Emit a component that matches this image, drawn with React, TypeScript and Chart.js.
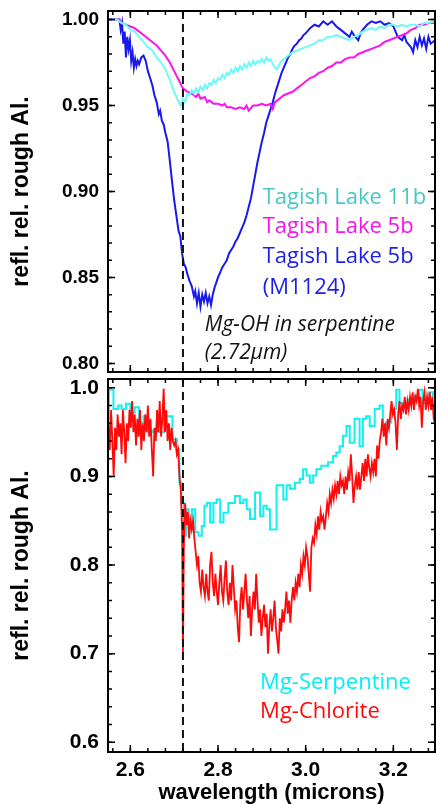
import React, { useEffect, useRef } from "react";
import { Chart, registerables } from "chart.js";

Chart.register(...registerables);

// ---------------- data ----------------
const X_MIN = 2.549;
const X_MAX = 3.295;
const TOP_Y_MIN = 0.795;
const TOP_Y_MAX = 1.005;
const BOTTOM_Y_MIN = 0.589;
const BOTTOM_Y_MAX = 1.01;
const MARKER_WAVELENGTH = 2.72;

const X_MAJOR_TICKS = [2.6, 2.8, 3.0, 3.2];
const X_MINOR_TICKS = [2.56, 2.6, 2.64, 2.68, 2.72, 2.76, 2.8, 2.84, 2.88, 2.92, 2.96, 3.0, 3.04, 3.08, 3.12, 3.16, 3.2, 3.24, 3.28];
const TOP_Y_MAJOR_TICKS = [0.8, 0.85, 0.9, 0.95, 1.0];
const TOP_Y_MINOR_TICKS = [0.8, 0.81, 0.82, 0.83, 0.84, 0.85, 0.86, 0.87, 0.88, 0.89, 0.9, 0.91, 0.92, 0.93, 0.94, 0.95, 0.96, 0.97, 0.98, 0.99, 1.0];
const BOTTOM_Y_MAJOR_TICKS = [0.6, 0.7, 0.8, 0.9, 1.0];
const BOTTOM_Y_MINOR_TICKS = [0.6, 0.62, 0.64, 0.66, 0.68, 0.7, 0.72, 0.74, 0.76, 0.78, 0.8, 0.82, 0.84, 0.86, 0.88, 0.9, 0.92, 0.94, 0.96, 0.98, 1.0];

const Y_TITLE = "refl. rel. rough Al.";
const X_TITLE = "wavelength (microns)";

// Tagish Lake 11b (top, light cyan)
const TAGISH_11B: [number, number][] = [
  [2.549, 1.0], [2.57, 1.0], [2.58, 0.998], [2.59, 0.997], [2.6, 0.994], [2.61, 0.993], [2.62, 0.99], [2.63, 0.987],
  [2.64, 0.984], [2.65, 0.982], [2.66, 0.978], [2.67, 0.975], [2.68, 0.971], [2.69, 0.965], [2.7, 0.958], [2.705, 0.955],
  [2.71, 0.952], [2.715, 0.95], [2.72, 0.954], [2.725, 0.952], [2.73, 0.957], [2.735, 0.956], [2.74, 0.959], [2.745, 0.957],
  [2.75, 0.96], [2.755, 0.958], [2.76, 0.961], [2.765, 0.959], [2.77, 0.962], [2.775, 0.96], [2.78, 0.963], [2.785, 0.962],
  [2.79, 0.965], [2.795, 0.963], [2.8, 0.966], [2.805, 0.965], [2.81, 0.968], [2.815, 0.966], [2.82, 0.969], [2.825, 0.968],
  [2.83, 0.971], [2.835, 0.969], [2.84, 0.972], [2.845, 0.97], [2.85, 0.973], [2.855, 0.971], [2.86, 0.974], [2.865, 0.972],
  [2.87, 0.975], [2.875, 0.973], [2.88, 0.976], [2.885, 0.974], [2.89, 0.976], [2.895, 0.975], [2.9, 0.977], [2.905, 0.975],
  [2.91, 0.978], [2.915, 0.976], [2.92, 0.977], [2.925, 0.974], [2.93, 0.972], [2.935, 0.971], [2.94, 0.974], [2.945, 0.976],
  [2.95, 0.977], [2.96, 0.979], [2.97, 0.981], [2.98, 0.982], [2.99, 0.983], [3.0, 0.984], [3.01, 0.985], [3.02, 0.986],
  [3.03, 0.988], [3.04, 0.988], [3.05, 0.99], [3.06, 0.99], [3.07, 0.991], [3.08, 0.99], [3.09, 0.989], [3.1, 0.988],
  [3.11, 0.99], [3.12, 0.991], [3.13, 0.993], [3.14, 0.994], [3.15, 0.995], [3.16, 0.994], [3.17, 0.996], [3.18, 0.995],
  [3.19, 0.997], [3.2, 0.997], [3.21, 0.996], [3.22, 0.997], [3.23, 0.996], [3.24, 0.997], [3.25, 0.997], [3.26, 0.996],
  [3.27, 0.998], [3.28, 0.998], [3.295, 0.999],
];

// Tagish Lake 5b (top, magenta)
const TAGISH_5B: [number, number][] = [
  [2.549, 1.0], [2.575, 1.0], [2.58, 0.998], [2.59, 0.997], [2.6, 0.996], [2.61, 0.995], [2.62, 0.993], [2.63, 0.991],
  [2.64, 0.989], [2.65, 0.987], [2.66, 0.985], [2.67, 0.982], [2.68, 0.979], [2.69, 0.975], [2.7, 0.97], [2.71, 0.965],
  [2.72, 0.96], [2.73, 0.958], [2.74, 0.957], [2.75, 0.955], [2.755, 0.957], [2.76, 0.954], [2.77, 0.955], [2.775, 0.952],
  [2.78, 0.953], [2.79, 0.951], [2.8, 0.951], [2.81, 0.95], [2.815, 0.951], [2.82, 0.949], [2.83, 0.949], [2.84, 0.948],
  [2.85, 0.949], [2.86, 0.948], [2.865, 0.95], [2.87, 0.947], [2.88, 0.95], [2.89, 0.95], [2.9, 0.951], [2.91, 0.95],
  [2.92, 0.951], [2.925, 0.948], [2.93, 0.952], [2.94, 0.954], [2.95, 0.956], [2.96, 0.957], [2.97, 0.958], [2.98, 0.96],
  [2.99, 0.962], [3.0, 0.964], [3.01, 0.966], [3.02, 0.967], [3.03, 0.969], [3.04, 0.97], [3.05, 0.972], [3.06, 0.973],
  [3.07, 0.975], [3.08, 0.975], [3.09, 0.977], [3.1, 0.978], [3.11, 0.978], [3.12, 0.98], [3.13, 0.981], [3.14, 0.982],
  [3.15, 0.983], [3.16, 0.984], [3.17, 0.985], [3.18, 0.987], [3.19, 0.988], [3.2, 0.989], [3.21, 0.99], [3.22, 0.991],
  [3.23, 0.992], [3.24, 0.994], [3.25, 0.995], [3.26, 0.997], [3.27, 0.997], [3.28, 0.998], [3.295, 0.998],
];

// Tagish Lake 5b (M1124) (top, blue)
const TAGISH_5B_M1124: [number, number][] = [
  [2.549, 1.0], [2.575, 1.0], [2.578, 0.994], [2.581, 0.998], [2.584, 0.986], [2.587, 0.993], [2.59, 0.978], [2.593, 0.99],
  [2.596, 0.983], [2.599, 0.988], [2.602, 0.976], [2.605, 0.981], [2.608, 0.972], [2.611, 0.977], [2.614, 0.973], [2.617, 0.976],
  [2.62, 0.974], [2.625, 0.978], [2.63, 0.979], [2.635, 0.976], [2.64, 0.97], [2.645, 0.966], [2.65, 0.962], [2.655, 0.956],
  [2.66, 0.952], [2.665, 0.945], [2.668, 0.947], [2.672, 0.941], [2.676, 0.939], [2.68, 0.934], [2.685, 0.929], [2.69, 0.918],
  [2.695, 0.906], [2.7, 0.895], [2.705, 0.886], [2.71, 0.877], [2.714, 0.874], [2.718, 0.864], [2.722, 0.858], [2.726, 0.856],
  [2.73, 0.852], [2.735, 0.848], [2.74, 0.845], [2.745, 0.839], [2.748, 0.842], [2.752, 0.835], [2.756, 0.841], [2.76, 0.833],
  [2.764, 0.84], [2.768, 0.836], [2.772, 0.841], [2.776, 0.835], [2.78, 0.839], [2.784, 0.834], [2.788, 0.84], [2.792, 0.844],
  [2.796, 0.847], [2.8, 0.85], [2.805, 0.853], [2.81, 0.856], [2.815, 0.858], [2.82, 0.86], [2.825, 0.864], [2.83, 0.866],
  [2.835, 0.868], [2.84, 0.871], [2.845, 0.873], [2.85, 0.876], [2.855, 0.879], [2.86, 0.882], [2.865, 0.886], [2.87, 0.891],
  [2.875, 0.896], [2.88, 0.903], [2.885, 0.91], [2.89, 0.917], [2.895, 0.923], [2.9, 0.929], [2.905, 0.934], [2.91, 0.94],
  [2.915, 0.944], [2.92, 0.948], [2.925, 0.952], [2.93, 0.957], [2.935, 0.961], [2.94, 0.965], [2.945, 0.969], [2.95, 0.972],
  [2.955, 0.975], [2.96, 0.978], [2.965, 0.98], [2.97, 0.983], [2.975, 0.985], [2.98, 0.986], [2.985, 0.988], [2.99, 0.989],
  [2.995, 0.991], [3.0, 0.992], [3.01, 0.995], [3.02, 0.997], [3.03, 0.996], [3.04, 0.999], [3.05, 0.997], [3.06, 0.999],
  [3.07, 0.996], [3.08, 0.994], [3.09, 0.992], [3.1, 0.99], [3.105, 0.993], [3.11, 0.991], [3.12, 0.988], [3.125, 0.992],
  [3.13, 0.994], [3.14, 0.997], [3.15, 0.999], [3.16, 0.998], [3.17, 0.999], [3.18, 0.997], [3.19, 0.998], [3.2, 0.996],
  [3.205, 0.993], [3.21, 0.99], [3.22, 0.988], [3.225, 0.991], [3.23, 0.987], [3.24, 0.984], [3.245, 0.981], [3.25, 0.988],
  [3.255, 0.984], [3.26, 0.99], [3.265, 0.985], [3.27, 0.989], [3.275, 0.983], [3.28, 0.99], [3.285, 0.986], [3.295, 0.988],
];

// Mg-Serpentine (bottom, cyan, stepped)
const MG_SERPENTINE: [number, number][] = [
  [2.549, 0.965], [2.553, 0.998], [2.57, 0.976], [2.575, 0.98], [2.585, 0.976], [2.595, 0.982], [2.605, 0.972], [2.615, 0.978],
  [2.625, 0.961], [2.635, 0.968], [2.645, 0.95], [2.657, 0.952], [2.672, 0.95], [2.68, 0.968], [2.69, 0.968], [2.702, 0.942],
  [2.71, 0.931], [2.714, 0.893], [2.719, 0.87], [2.725, 0.833], [2.729, 0.863], [2.737, 0.848], [2.744, 0.863], [2.752, 0.837],
  [2.759, 0.833], [2.767, 0.844], [2.771, 0.867], [2.778, 0.87], [2.786, 0.848], [2.793, 0.87], [2.801, 0.874], [2.809, 0.848],
  [2.816, 0.859], [2.831, 0.87], [2.846, 0.878], [2.854, 0.87], [2.862, 0.874], [2.869, 0.863], [2.877, 0.852], [2.892, 0.882],
  [2.9, 0.855], [2.907, 0.867], [2.915, 0.863], [2.922, 0.84], [2.93, 0.84], [2.937, 0.89], [2.945, 0.89], [2.953, 0.874],
  [2.96, 0.89], [2.968, 0.886], [2.983, 0.893], [2.99, 0.897], [2.998, 0.908], [3.006, 0.901], [3.013, 0.893], [3.021, 0.901],
  [3.028, 0.908], [3.043, 0.912], [3.059, 0.916], [3.066, 0.923], [3.074, 0.927], [3.081, 0.934], [3.089, 0.946], [3.097, 0.957],
  [3.104, 0.938], [3.119, 0.965], [3.127, 0.934], [3.134, 0.965], [3.142, 0.968], [3.15, 0.957], [3.165, 0.976], [3.172, 0.98],
  [3.18, 0.957], [3.187, 0.961], [3.203, 0.976], [3.21, 0.998], [3.218, 0.983], [3.225, 0.98], [3.241, 0.987], [3.256, 0.991],
  [3.263, 0.998], [3.271, 0.983], [3.278, 0.987], [3.286, 0.995], [3.295, 0.991],
];

// Mg-Chlorite (bottom, red)
const MG_CHLORITE: [number, number][] = [
  [2.549, 0.97], [2.553, 0.93], [2.556, 0.975], [2.559, 0.94], [2.562, 0.9], [2.565, 0.955], [2.568, 0.93], [2.571, 0.97],
  [2.574, 0.945], [2.577, 0.96], [2.58, 0.925], [2.583, 0.975], [2.586, 0.95], [2.589, 0.915], [2.592, 0.96], [2.595, 0.94],
  [2.598, 0.975], [2.601, 0.955], [2.604, 0.985], [2.607, 0.95], [2.61, 0.97], [2.613, 0.935], [2.616, 0.965], [2.619, 0.945],
  [2.622, 0.975], [2.625, 0.93], [2.628, 0.96], [2.631, 0.94], [2.634, 0.97], [2.637, 0.95], [2.64, 0.98], [2.643, 0.945],
  [2.646, 0.965], [2.649, 0.93], [2.652, 0.9], [2.655, 0.955], [2.658, 0.94], [2.661, 0.975], [2.664, 0.95], [2.667, 0.985],
  [2.67, 0.945], [2.673, 0.965], [2.676, 0.999], [2.679, 0.95], [2.682, 0.975], [2.685, 0.94], [2.688, 0.96], [2.691, 0.93],
  [2.694, 0.955], [2.697, 0.94], [2.7, 0.935], [2.703, 0.94], [2.706, 0.925], [2.709, 0.93], [2.712, 0.9], [2.715, 0.885],
  [2.718, 0.84], [2.72, 0.7], [2.722, 0.82], [2.725, 0.87], [2.728, 0.845], [2.731, 0.86], [2.734, 0.83], [2.737, 0.85],
  [2.74, 0.84], [2.743, 0.85], [2.746, 0.83], [2.749, 0.815], [2.752, 0.8], [2.755, 0.81], [2.758, 0.78], [2.761, 0.77],
  [2.764, 0.795], [2.767, 0.775], [2.77, 0.765], [2.773, 0.79], [2.776, 0.77], [2.779, 0.76], [2.782, 0.8], [2.785, 0.815],
  [2.788, 0.78], [2.791, 0.765], [2.794, 0.79], [2.797, 0.77], [2.8, 0.755], [2.803, 0.78], [2.806, 0.8], [2.809, 0.77],
  [2.812, 0.76], [2.815, 0.785], [2.818, 0.805], [2.821, 0.77], [2.824, 0.755], [2.827, 0.78], [2.83, 0.76], [2.833, 0.8],
  [2.836, 0.775], [2.839, 0.75], [2.842, 0.76], [2.845, 0.73], [2.848, 0.713], [2.851, 0.76], [2.854, 0.775], [2.857, 0.75],
  [2.86, 0.77], [2.863, 0.79], [2.866, 0.76], [2.869, 0.74], [2.872, 0.765], [2.875, 0.72], [2.878, 0.75], [2.881, 0.77],
  [2.884, 0.75], [2.887, 0.79], [2.89, 0.76], [2.893, 0.735], [2.896, 0.75], [2.899, 0.72], [2.902, 0.74], [2.905, 0.755],
  [2.908, 0.73], [2.911, 0.745], [2.914, 0.7], [2.917, 0.73], [2.92, 0.75], [2.923, 0.725], [2.926, 0.74], [2.929, 0.76],
  [2.932, 0.73], [2.935, 0.715], [2.938, 0.7], [2.941, 0.74], [2.944, 0.725], [2.947, 0.75], [2.95, 0.735], [2.953, 0.75],
  [2.956, 0.77], [2.959, 0.745], [2.962, 0.76], [2.965, 0.735], [2.968, 0.76], [2.971, 0.775], [2.974, 0.76], [2.977, 0.78],
  [2.98, 0.77], [2.983, 0.79], [2.986, 0.775], [2.989, 0.8], [2.992, 0.79], [2.995, 0.81], [2.998, 0.8], [3.001, 0.82],
  [3.004, 0.81], [3.007, 0.79], [3.01, 0.77], [3.013, 0.82], [3.016, 0.83], [3.019, 0.825], [3.022, 0.845], [3.025, 0.835],
  [3.028, 0.855], [3.031, 0.84], [3.034, 0.86], [3.037, 0.85], [3.04, 0.855], [3.043, 0.84], [3.046, 0.855], [3.049, 0.87],
  [3.052, 0.86], [3.055, 0.88], [3.058, 0.87], [3.061, 0.885], [3.064, 0.875], [3.067, 0.89], [3.07, 0.88], [3.073, 0.895],
  [3.076, 0.88], [3.079, 0.9], [3.082, 0.89], [3.085, 0.895], [3.088, 0.88], [3.091, 0.9], [3.094, 0.885], [3.097, 0.905],
  [3.1, 0.895], [3.103, 0.925], [3.106, 0.9], [3.109, 0.87], [3.112, 0.89], [3.115, 0.9], [3.118, 0.885], [3.121, 0.905],
  [3.124, 0.885], [3.127, 0.9], [3.13, 0.915], [3.133, 0.895], [3.136, 0.92], [3.139, 0.9], [3.142, 0.925], [3.145, 0.91],
  [3.148, 0.9], [3.151, 0.915], [3.154, 0.905], [3.157, 0.92], [3.16, 0.9], [3.163, 0.935], [3.166, 0.92], [3.169, 0.94],
  [3.172, 0.95], [3.175, 0.965], [3.178, 0.945], [3.181, 0.96], [3.184, 0.935], [3.187, 0.965], [3.19, 0.955], [3.193, 0.97],
  [3.196, 0.985], [3.199, 0.97], [3.202, 0.975], [3.205, 0.96], [3.208, 0.93], [3.211, 0.97], [3.214, 0.985], [3.217, 0.965],
  [3.22, 0.98], [3.223, 0.975], [3.226, 0.99], [3.229, 0.97], [3.232, 0.985], [3.235, 0.975], [3.238, 0.99], [3.241, 0.98],
  [3.244, 0.995], [3.247, 0.975], [3.25, 0.99], [3.253, 0.985], [3.256, 0.999], [3.259, 0.98], [3.262, 0.99], [3.265, 0.955],
  [3.268, 0.985], [3.271, 0.995], [3.274, 0.975], [3.277, 0.99], [3.28, 0.98], [3.283, 0.995], [3.286, 0.975], [3.289, 0.99],
  [3.292, 0.965], [3.295, 0.96],
];

// ---------------- styling ----------------
const AXIS_FONT = "'Liberation Sans', Arial, Helvetica, sans-serif";
const NOTE_FONT = "'Open Sans', 'Noto Sans', sans-serif";

type Series = { label: string; points: [number, number][]; color: string; width: number; stepped?: boolean };
type Note = { text: string; at: [number, number]; color: string; font: string };

type PanelProps = {
  top: number;
  height: number;
  padTop: number;
  xAxisHeight: number;
  yMin: number;
  yMax: number;
  yMajor: number[];
  yMinor: number[];
  yDigits: number;
  yFontSize: number;
  showX: boolean;
  series: Series[];
  notes: Note[];
};

function Panel(p: PanelProps) {
  const ref = useRef<HTMLCanvasElement | null>(null);

  useEffect(() => {
    const canvas = ref.current;
    if (!canvas) return;

    const framePlugin = {
      id: "frameTicks",
      afterDatasetsDraw(chart: any) {
        const { ctx, chartArea: a } = chart;
        const xs = chart.scales.x;
        const ys = chart.scales.y;
        ctx.save();
        // dashed marker line
        const mx = xs.getPixelForValue(MARKER_WAVELENGTH);
        ctx.strokeStyle = "#111";
        ctx.lineWidth = 2;
        ctx.setLineDash([8, 5]);
        ctx.beginPath();
        ctx.moveTo(mx, a.top);
        ctx.lineTo(mx, a.bottom);
        ctx.stroke();
        ctx.setLineDash([]);

        // inward ticks
        ctx.strokeStyle = "#000";
        ctx.lineWidth = 1.5;
        const xt = (vals: number[], len: number) => {
          for (const v of vals) {
            const px = xs.getPixelForValue(v);
            ctx.beginPath();
            ctx.moveTo(px, a.bottom);
            ctx.lineTo(px, a.bottom - len);
            ctx.moveTo(px, a.top);
            ctx.lineTo(px, a.top + len);
            ctx.stroke();
          }
        };
        const yt = (vals: number[], len: number) => {
          for (const v of vals) {
            const py = ys.getPixelForValue(v);
            ctx.beginPath();
            ctx.moveTo(a.left, py);
            ctx.lineTo(a.left + len, py);
            ctx.moveTo(a.right, py);
            ctx.lineTo(a.right - len, py);
            ctx.stroke();
          }
        };
        xt(X_MINOR_TICKS, 4);
        xt(X_MAJOR_TICKS, 7);
        yt(p.yMinor, 4);
        yt(p.yMajor, 7);

        // frame
        ctx.lineWidth = 2;
        ctx.strokeRect(a.left, a.top, a.right - a.left, a.bottom - a.top);

        // notes
        for (const n of p.notes) {
          ctx.font = n.font;
          ctx.fillStyle = n.color;
          ctx.textAlign = "left";
          ctx.textBaseline = "middle";
          ctx.fillText(n.text, xs.getPixelForValue(n.at[0]), ys.getPixelForValue(n.at[1]));
        }
        ctx.restore();
      },
    };

    const chart = new Chart(canvas, {
      type: "line",
      data: {
        datasets: p.series.map((s) => ({
          label: s.label,
          data: s.points.map(([x, y]) => ({ x, y })),
          borderColor: s.color,
          backgroundColor: s.color,
          borderWidth: s.width,
          pointRadius: 0,
          tension: 0,
          stepped: s.stepped ? "middle" : false,
          fill: false,
        })),
      },
      options: {
        responsive: false,
        animation: false,
        devicePixelRatio: 1,
        layout: { padding: { top: p.padTop, right: 1, left: 0, bottom: 0 } },
        plugins: { legend: { display: false }, tooltip: { enabled: false } },
        scales: {
          x: {
            type: "linear",
            min: X_MIN,
            max: X_MAX,
            grid: { display: false, drawTicks: false },
            border: { display: false },
            afterBuildTicks: (s: any) => {
              s.ticks = X_MAJOR_TICKS.map((value) => ({ value }));
            },
            afterFit: (s: any) => {
              s.height = p.xAxisHeight;
              s.paddingLeft = 0;
              s.paddingRight = 0;
            },
            ticks: {
              display: p.showX,
              autoSkip: false,
              maxRotation: 0,
              padding: 6,
              color: "#000",
              font: { family: AXIS_FONT, size: 21, weight: "bold" },
              callback: (v: any) => Number(v).toFixed(1),
            },
            title: {
              display: p.showX,
              text: X_TITLE,
              color: "#000",
              font: { family: AXIS_FONT, size: 22, weight: "bold", lineHeight: 1.0 },
              padding: { top: 0, bottom: 0 },
            },
          },
          y: {
            type: "linear",
            min: p.yMin,
            max: p.yMax,
            grid: { display: false, drawTicks: false },
            border: { display: false },
            afterBuildTicks: (s: any) => {
              s.ticks = p.yMajor.map((value) => ({ value }));
            },
            afterFit: (s: any) => {
              s.width = 108;
              s.paddingTop = 0;
              s.paddingBottom = 0;
            },
            ticks: {
              autoSkip: false,
              padding: 9,
              color: "#000",
              font: { family: AXIS_FONT, size: p.yFontSize, weight: "bold" },
              callback: (v: any) => Number(v).toFixed(p.yDigits),
            },
            title: {
              display: true,
              text: Y_TITLE,
              color: "#000",
              font: { family: AXIS_FONT, size: 23, weight: "bold" },
              padding: { top: 8, bottom: 0 },
            },
          },
        },
      } as any,
      plugins: [framePlugin],
    });

    return () => chart.destroy();
  }, []);

  return (
    <canvas
      ref={ref}
      width={436}
      height={p.height}
      style={{ position: "absolute", left: 0, top: p.top, width: 436, height: p.height }}
    />
  );
}

const TOP_LEGEND_FONT = `22px ${NOTE_FONT}`;
const BOTTOM_LEGEND_FONT = `22px ${NOTE_FONT}`;
const ITALIC_FONT = `italic 21px ${NOTE_FONT}`;

export default function App() {
  const topSeries: Series[] = [
    { label: "Tagish Lake 11b", points: TAGISH_11B, color: "rgb(110,250,250)", width: 2 },
    { label: "Tagish Lake 5b", points: TAGISH_5B, color: "rgb(250,20,240)", width: 2 },
    { label: "Tagish Lake 5b (M1124)", points: TAGISH_5B_M1124, color: "rgb(25,25,235)", width: 2 },
  ];
  const bottomSeries: Series[] = [
    { label: "Mg-Chlorite", points: MG_CHLORITE, color: "rgb(255,10,10)", width: 1.8 },
    { label: "Mg-Serpentine", points: MG_SERPENTINE, color: "rgb(20,240,240)", width: 2, stepped: true },
  ];
  const topNotes: Note[] = [
    { text: "Tagish Lake 11b", at: [2.902, 0.8962], color: "rgb(70,200,200)", font: TOP_LEGEND_FONT },
    { text: "Tagish Lake 5b", at: [2.902, 0.8793], color: "rgb(245,20,235)", font: TOP_LEGEND_FONT },
    { text: "Tagish Lake 5b", at: [2.902, 0.8618], color: "rgb(30,30,230)", font: TOP_LEGEND_FONT },
    { text: "(M1124)", at: [2.902, 0.8443], color: "rgb(30,30,230)", font: TOP_LEGEND_FONT },
    { text: "Mg-OH in serpentine", at: [2.77, 0.8222], color: "#111", font: ITALIC_FONT },
    { text: "(2.72\u00B5m)", at: [2.77, 0.8058], color: "#111", font: ITALIC_FONT },
  ];
  const bottomNotes: Note[] = [
    { text: "Mg-Serpentine", at: [2.896, 0.6667], color: "rgb(0,240,245)", font: BOTTOM_LEGEND_FONT },
    { text: "Mg-Chlorite", at: [2.896, 0.635], color: "rgb(255,10,10)", font: BOTTOM_LEGEND_FONT },
  ];

  return (
    <div style={{ position: "absolute", left: 0, top: 0, width: 436, height: 804, background: "#fff", overflow: "hidden" }}>
      <Panel
        top={0}
        height={376}
        padTop={11}
        xAxisHeight={4}
        yMin={TOP_Y_MIN}
        yMax={TOP_Y_MAX}
        yMajor={TOP_Y_MAJOR_TICKS}
        yMinor={TOP_Y_MINOR_TICKS}
        yDigits={2}
        yFontSize={19}
        showX={false}
        series={topSeries}
        notes={topNotes}
      />
      <Panel
        top={376}
        height={428}
        padTop={3}
        xAxisHeight={52}
        yMin={BOTTOM_Y_MIN}
        yMax={BOTTOM_Y_MAX}
        yMajor={BOTTOM_Y_MAJOR_TICKS}
        yMinor={BOTTOM_Y_MINOR_TICKS}
        yDigits={1}
        yFontSize={21}
        showX={true}
        series={bottomSeries}
        notes={bottomNotes}
      />
    </div>
  );
}
